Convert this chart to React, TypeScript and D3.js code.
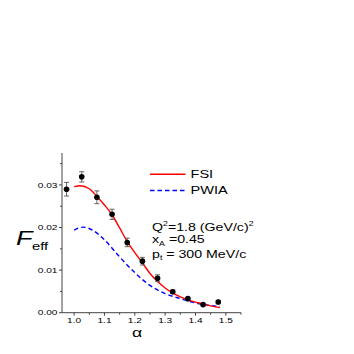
import React from "react";
import * as d3 from "d3";

// measured points with error bars
const alphaPts = [0.975, 1.025, 1.075, 1.125, 1.175, 1.225, 1.275, 1.325, 1.375, 1.425, 1.475];
const feffPts = [0.029, 0.0319, 0.0271, 0.0231, 0.0165, 0.0121, 0.0081, 0.0049, 0.0033, 0.0019, 0.0025];
const feffErr = [0.0016, 0.0012, 0.0015, 0.0012, 0.001, 0.0009, 0.0008, 0.0004, 0.0003, 0.0003, 0.0004];

// FSI calculation
const fsiAlpha = [1.0, 1.02, 1.05, 1.075, 1.1, 1.125, 1.15, 1.175, 1.2, 1.225, 1.25, 1.275, 1.3, 1.325, 1.35, 1.375, 1.4, 1.425, 1.45, 1.48];
const fsiFeff = [0.0296, 0.0298, 0.0291, 0.0273, 0.0253, 0.023, 0.0199, 0.0167, 0.0141, 0.0117, 0.0092, 0.0073, 0.0058, 0.0046, 0.0037, 0.003, 0.0025, 0.002, 0.0016, 0.0012];

// PWIA calculation
const pwiaAlpha = [1.0, 1.03, 1.06, 1.1, 1.15, 1.2, 1.25, 1.3, 1.35, 1.4, 1.45, 1.48];
const pwiaFeff = [0.0194, 0.0201, 0.0194, 0.0171, 0.0131, 0.0094, 0.0064, 0.0045, 0.0033, 0.0023, 0.0017, 0.0014];

const xTicks = [1.0, 1.1, 1.2, 1.3, 1.4, 1.5];
const xMinor = [1.05, 1.15, 1.25, 1.35, 1.45, 1.55];
const yTicks = [0, 0.01, 0.02, 0.03];
const yMinor = [0.005, 0.015, 0.025, 0.035];

const FONT = "'Liberation Sans', Arial, sans-serif";
const SX = 1.35; // the original figure is stretched horizontally

function SText({ x, y, size, anchor = "start", style, children }: any) {
  return (
    <text
      transform={`translate(${x},${y}) scale(${SX},1)`}
      fontSize={size}
      textAnchor={anchor}
      fontFamily={FONT}
      fill="#000"
      style={style}
    >
      {children}
    </text>
  );
}

export default function App() {
  const width = 354;
  const height = 354;
  const x = d3.scaleLinear().domain([0.96, 1.55]).range([62, 241]);
  const y = d3.scaleLinear().domain([0, 0.0375]).range([312.7, 153]);

  const line = d3
    .line<[number, number]>()
    .x((d) => x(d[0]))
    .y((d) => y(d[1]))
    .curve(d3.curveMonotoneX);

  const fsi = fsiAlpha.map((a, i) => [a, fsiFeff[i]] as [number, number]);
  const pwia = pwiaAlpha.map((a, i) => [a, pwiaFeff[i]] as [number, number]);

  const x0 = x.range()[0];
  const y0 = y.range()[0];
  const axisColor = "#444";

  return (
    <svg
      width={width}
      height={height}
      style={{ position: "absolute", left: 0, top: 0, background: "#fff" }}
    >
      {/* axes */}
      <line x1={x0} x2={x.range()[1]} y1={y0} y2={y0} stroke={axisColor} strokeWidth={1} />
      <line x1={x0} x2={x0} y1={y0} y2={y.range()[1]} stroke={axisColor} strokeWidth={1} />
      {xTicks.map((t) => (
        <g key={"xt" + t}>
          <line x1={x(t)} x2={x(t)} y1={y0} y2={y0 + 3} stroke={axisColor} />
          <SText x={x(t)} y={y0 + 10} size={7.5} anchor="middle">
            {t.toFixed(1)}
          </SText>
        </g>
      ))}
      {xMinor.map((t) => (
        <line key={"xm" + t} x1={x(t)} x2={x(t)} y1={y0} y2={y0 + 2} stroke={axisColor} />
      ))}
      {yTicks.map((t) => (
        <g key={"yt" + t}>
          <line x1={x0 - 3} x2={x0} y1={y(t)} y2={y(t)} stroke={axisColor} />
          <SText x={x0 - 4.5} y={y(t) + 2.6} size={7.5} anchor="end">
            {t.toFixed(2)}
          </SText>
        </g>
      ))}
      {yMinor.map((t) => (
        <line key={"ym" + t} x1={x0 - 2} x2={x0} y1={y(t)} y2={y(t)} stroke={axisColor} />
      ))}

      {/* curves */}
      <path d={line(pwia) ?? ""} fill="none" stroke="#0000ff" strokeWidth={1.4} strokeDasharray="4.5,3" />
      <path d={line(fsi) ?? ""} fill="none" stroke="#ff0000" strokeWidth={1.4} />

      {/* data points */}
      {alphaPts.map((a, i) => {
        const cx = x(a);
        const top = y(feffPts[i] + feffErr[i]);
        const bot = y(feffPts[i] - feffErr[i]);
        return (
          <g key={"p" + i}>
            <line x1={cx} x2={cx} y1={top} y2={bot} stroke="#555" strokeWidth={0.9} />
            <line x1={cx - 2.5} x2={cx + 2.5} y1={top} y2={top} stroke="#555" strokeWidth={0.9} />
            <line x1={cx - 2.5} x2={cx + 2.5} y1={bot} y2={bot} stroke="#555" strokeWidth={0.9} />
            <circle cx={cx} cy={y(feffPts[i])} r={2.8} fill="#000" />
          </g>
        );
      })}

      {/* legend */}
      <line x1={150} x2={185.5} y1={174.3} y2={174.3} stroke="#ff0000" strokeWidth={1.4} />
      <SText x={190.5} y={178.3} size={10.8}>FSI</SText>
      <line x1={150} x2={185.5} y1={190.5} y2={190.5} stroke="#0000ff" strokeWidth={1.4} strokeDasharray="4.5,3" />
      <SText x={190.5} y={194.3} size={10.8}>PWIA</SText>

      {/* kinematics */}
      <SText x={152} y={230.5} size={10.5}>
        Q<tspan dy={-4.5} fontSize={6.5}>2</tspan>
        <tspan dy={4.5}>=1.8 (GeV/c)</tspan>
        <tspan dy={-4.5} fontSize={6.5}>2</tspan>
      </SText>
      <SText x={152} y={243} size={10.5}>
        x<tspan dy={3} fontSize={6.5}>A</tspan>
        <tspan dy={-3}> =0.45</tspan>
      </SText>
      <SText x={152} y={257.5} size={10.5}>
        p<tspan dy={2.5} fontSize={6.5}>t</tspan>
        <tspan dy={-2.5}> = 300 MeV/c</tspan>
      </SText>

      {/* axis titles */}
      <SText x={16} y={245} size={20} style={{ fontStyle: "italic" }}>
        F
      </SText>
      <SText x={32} y={250} size={11}>
        eff
      </SText>
      <SText x={137} y={337} size={13} anchor="middle">
        α
      </SText>
    </svg>
  );
}
